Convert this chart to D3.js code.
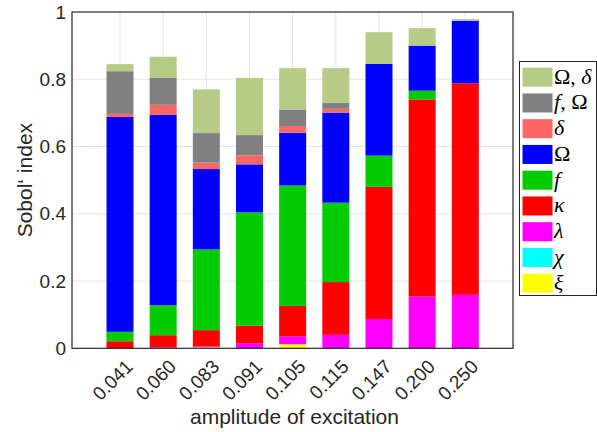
<!DOCTYPE html>
<html><head><meta charset="utf-8">
<script src="https://cdn.jsdelivr.net/npm/d3@7"></script>
<style>
body{margin:0;background:#fff;}
svg{display:block;}
</style></head>
<body>
<svg id="chart" width="597" height="432"></svg>
<script>
const categories = ["0.041","0.060","0.083","0.091","0.105","0.115","0.147","0.200","0.250"];
// series, stacked bottom to top
const xi      = [0,     0,     0.003, 0,     0.012, 0,     0,     0,     0];
const chi     = [0,     0,     0,     0,     0,     0,     0,     0,     0];
const lambda  = [0,     0.003, 0.003, 0.015, 0.024, 0.040, 0.087, 0.154, 0.159];
const kappa   = [0.021, 0.036, 0.048, 0.052, 0.090, 0.157, 0.393, 0.586, 0.629];
const fS      = [0.028, 0.089, 0.240, 0.337, 0.358, 0.236, 0.093, 0.026, 0];
const Omega   = [0.639, 0.566, 0.239, 0.143, 0.157, 0.268, 0.273, 0.134, 0.186];
const delta   = [0.009, 0.030, 0.019, 0.027, 0.020, 0.011, 0,     0,     0];
const fOmega  = [0.127, 0.081, 0.088, 0.060, 0.049, 0.018, 0,     0,     0];
const OmegaDelta = [0.021, 0.062, 0.130, 0.170, 0.123, 0.103, 0.094, 0.052, 0.005];
const yTicks = [0, 0.2, 0.4, 0.6, 0.8, 1];

const seriesNames = ["xi","chi","lambda","kappa","f","Omega","delta","fOmega","OmegaDelta"];
const seriesValues = [xi, chi, lambda, kappa, fS, Omega, delta, fOmega, OmegaDelta];
const seriesColors = ["#ffff00","#00ffff","#ff00ff","#ff0000","#00cc00","#0000ff","#ff6666","#808080","#b6cb85"];
// legend: [name, parts] parts: [text, italic]
const legendLabels = [
  ["OmegaDelta", [["Ω",false],[", ",false],["δ",true]]],
  ["fOmega", [["f",true],[", ",false],["Ω",false]]],
  ["delta", [["δ",true]]],
  ["Omega", [["Ω",false]]],
  ["f", [["f",true]]],
  ["kappa", [["κ",true]]],
  ["lambda", [["λ",true]]],
  ["chi", [["χ",true]]],
  ["xi", [["ξ",true]]]
];

const rows = categories.map((c,i)=>{
  const r = {cat:c};
  seriesNames.forEach((n,k)=>r[n]=seriesValues[k][i]);
  return r;
});
const stack = d3.stack().keys(seriesNames)(rows);
const color = d3.scaleOrdinal().domain(seriesNames).range(seriesColors);

const svg = d3.select("#chart");
const L=72, R=513, T=12, B=348.3;
const x = d3.scalePoint().domain(categories).range([120,465.3]);
const barW = 27;
const y = d3.scaleLinear().domain([0,1]).range([B,T]);
const textCol = "#262626";

// grid
svg.append("g").selectAll("line").data(yTicks.slice(1,-1)).join("line")
  .attr("x1",L).attr("x2",R).attr("y1",d=>y(d)).attr("y2",d=>y(d))
  .attr("stroke","#e3e3e3").attr("stroke-width",1);
svg.append("g").selectAll("line").data(categories).join("line")
  .attr("x1",d=>x(d)).attr("x2",d=>x(d)).attr("y1",T).attr("y2",B)
  .attr("stroke","#e3e3e3").attr("stroke-width",1);

// bars
svg.append("g").selectAll("g").data(stack).join("g")
  .attr("fill",d=>color(d.key))
  .selectAll("rect").data(d=>d).join("rect")
  .attr("x",d=>x(d.data.cat)-barW/2)
  .attr("width",barW)
  .attr("y",d=>y(d[1]))
  .attr("height",d=>Math.max(0,y(d[0])-y(d[1])));

// frame
svg.append("rect").attr("x",L).attr("y",T).attr("width",R-L).attr("height",B-T)
  .attr("fill","none").attr("stroke",textCol).attr("stroke-width",1.2);

// y axis
const yAxis = d3.axisLeft(y).tickValues(yTicks).tickFormat(d3.format("~g")).tickSize(0).tickPadding(6);
const gy = svg.append("g").attr("transform",`translate(${L},0)`).call(yAxis);
gy.select(".domain").remove();
gy.selectAll("text").attr("font-family","Liberation Sans, Arial, sans-serif").attr("font-size",19).attr("fill",textCol);

// x axis
const xAxis = d3.axisBottom(x).tickSize(0).tickPadding(0);
const gx = svg.append("g").attr("transform",`translate(0,${B})`).call(xAxis);
gx.select(".domain").remove();
gx.selectAll("text")
  .attr("font-family","Liberation Sans, Arial, sans-serif").attr("font-size",19).attr("fill",textCol)
  .attr("text-anchor","end").attr("dy",null).attr("y",null)
  .attr("dominant-baseline","central")
  .attr("transform","translate(9,15) rotate(-45)");

// axis titles
svg.append("text").attr("x",(L+R)/2 + 2).attr("y",424)
  .attr("text-anchor","middle").attr("font-family","Liberation Sans, Arial, sans-serif")
  .attr("font-size",21).attr("fill",textCol).text("amplitude of excitation");
svg.append("text").attr("transform",`translate(32,${(T+B)/2}) rotate(-90)`)
  .attr("text-anchor","middle").attr("font-family","Liberation Sans, Arial, sans-serif")
  .attr("font-size",21).attr("fill",textCol).text("Sobol‘ index");

// legend
const lg = svg.append("g");
lg.append("rect").attr("x",519.5).attr("y",61.5).attr("width",77).attr("height",234)
  .attr("fill","#fff").attr("stroke",textCol).attr("stroke-width",1);
const ly = d3.scaleLinear().domain([0,8]).range([67.7, 273.7]);
legendLabels.forEach(([name,parts],i)=>{
  lg.append("rect").attr("x",522.5).attr("y",ly(i)).attr("width",30).attr("height",19)
    .attr("fill",color(name));
  const t = lg.append("text").attr("x",554).attr("y",ly(i)+16)
    .attr("font-family","Liberation Serif, Times New Roman, serif").attr("font-size",22).attr("fill","#000");
  parts.forEach(([s,it])=>t.append("tspan").attr("font-style",it?"italic":"normal").text(s));
});
</script>
</body></html>
